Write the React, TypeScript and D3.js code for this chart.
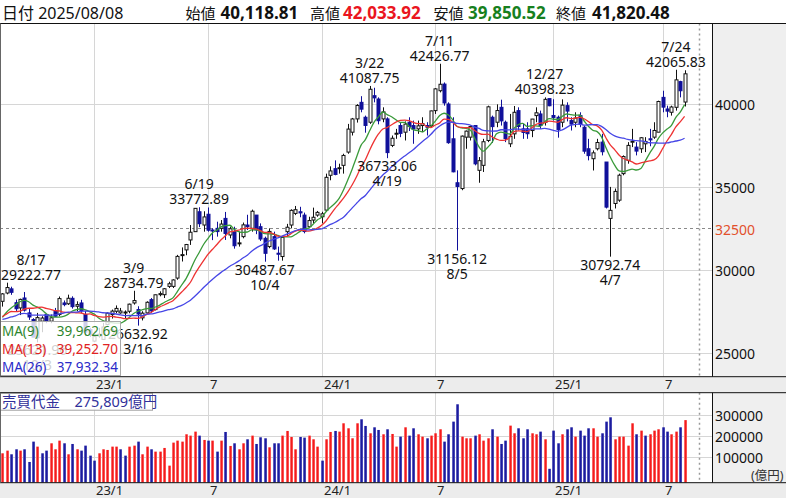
import React from 'react';
import * as d3 from 'd3';

// ---- data (weekly, 2022-08-12 .. 2025-08-08) ----
const priorCloses = [27122.07, 26476.5, 25985.47, 25162.78, 26827.43, 28149.84, 27665.98, 26985.8, 27093.19, 27105.26, 26847.9, 27003.56, 26427.65, 26739.03, 26781.68, 27761.57, 27824.29, 25963.0, 26491.97, 25935.62, 26517.19, 26788.47, 27914.66, 27801.64, 28175.87];

const opens = [28100, 28600, 28850, 28015, 27700, 28300, 27400, 27000, 25900, 26900, 27300, 26900, 27500, 27300, 28000, 27950, 28280, 27800, 28000, 27300, 26400, 25700, 26000, 25800, 26700, 27300, 27500, 27400, 27400, 27500, 28000, 27600, 27100, 27400, 28200, 27600, 28500, 28500, 29000, 29000, 29500, 30900, 31200, 31800, 32300, 33500, 32700, 33350, 32400, 32500, 32500, 33100, 32100, 32300, 31600, 32000, 32700, 32500, 33300, 32600, 31900, 31400, 32000, 31000, 30800, 32300, 32700, 33400, 33500, 33300, 32600, 33000, 33300, 33200, 33600, 35700, 36100, 36100, 36300, 37100, 38300, 39100, 40100, 39200, 38900, 40500, 40300, 39100, 39100, 37500, 38200, 38700, 38300, 38900, 38700, 38500, 38700, 38700, 38700, 39600, 40800, 41200, 40000, 37900, 35250, 34900, 38000, 38000, 38700, 36000, 36300, 37800, 39200, 38900, 39800, 38900, 37600, 38200, 39600, 38500, 38500, 38400, 39300, 39400, 38900, 40325.77, 39307, 39200, 38900, 39900, 39000, 38900, 39300, 38600, 37300, 36700, 37300, 37700, 36500, 33100, 34000, 34200, 35800, 36600, 37700, 37400, 37300, 37600, 37900, 38000, 38300, 40400, 39700, 39500, 39800, 41350, 40118.81];

const highs = [28600, 29222.77, 28980, 28200, 28260, 28660, 27690, 27080, 27400, 27200, 27300, 27300, 27700, 28390, 28150, 28500, 28400, 28100, 28190, 27520, 26500, 26000, 26500, 26800, 27430, 27600, 27850, 27700, 27550, 27960, 28734.79, 27800, 27500, 28100, 28300, 28500, 28700, 28900, 29280, 29430, 30900, 31350, 31560, 32700, 33720, 33772.89, 33530, 33760, 32500, 32900, 33000, 33490, 32600, 32600, 32300, 32850, 33320, 33630, 33300, 32800, 32000, 32500, 32300, 31400, 32000, 32770, 33650, 33850, 33800, 33450, 33200, 33750, 33550, 33500, 35800, 36240, 36600, 36400, 37000, 38800, 39160, 39990, 40472, 39300, 41087.75, 40980, 40400, 39800, 39200, 38100, 38500, 38900, 38950, 39200, 39000, 39000, 39200, 38900, 39600, 40960, 42426.77, 41300, 40100, 39200, 36000, 38100, 38400, 38700, 38700, 36800, 37900, 39900, 39300, 39980, 40260, 39000, 39400, 39880, 39800, 38800, 38900, 39100, 39800, 39600, 40398.23, 40325.77, 40288, 39300, 40280, 40100, 39200, 39500, 39500, 38700, 37900, 37200, 37900, 38200, 36500, 35000, 34900, 35800, 36900, 37700, 38500, 37700, 38000, 38000, 38500, 38900, 40200, 40800, 39900, 39900, 42065.83, 41400, 42033.92];

const lows = [27780, 28520, 28490, 27510, 27270, 27480, 26980, 25935, 25621.96, 26237, 26780, 26780, 27160, 27200, 27800, 27880, 27660, 27500, 27400, 26000, 25950, 25661, 25900, 25800, 26650, 27060, 27380, 27350, 27050, 27380, 27900, 26632.92, 26945, 27350, 27400, 27550, 28400, 28300, 28900, 28900, 29400, 30500, 30880, 31500, 32300, 32575, 32300, 32300, 31790, 32000, 32300, 31800, 31900, 31275, 31400, 31900, 32400, 32300, 32150, 31740, 30487.67, 31300, 31200, 30550, 30550, 32000, 32500, 33300, 33170, 32200, 32500, 32800, 33200, 32800, 33500, 35400, 35700, 35800, 35800, 37000, 38100, 38880, 39500, 38270, 38800, 40100, 38774, 38900, 36733.06, 37400, 37900, 38000, 37800, 38370, 37600, 38200, 38300, 38100, 38600, 39400, 40700, 39900, 37600, 35880, 31156.12, 34800, 37300, 37800, 36300, 35250, 35900, 37700, 37650, 38600, 38700, 37700, 37400, 37900, 38400, 37900, 37900, 38000, 38900, 38500, 38700, 39864.36, 39000, 37970, 38600, 38950, 38400, 38600, 38600, 37000, 36600, 35990, 37200, 36900, 33700, 30792.74, 33700, 34100, 35700, 36400, 37400, 36900, 37050, 37100, 37450, 37900, 38300, 39500, 39200, 39300, 39600, 40400, 39850.52];

const closes = [28546.98, 28930.33, 28641.38, 27650.84, 28214.75, 27567.65, 27153.83, 25937.21, 27116.11, 27090.76, 26890.58, 27105.2, 27199.74, 28263.57, 27899.77, 28283.03, 27777.9, 27901.01, 27527.12, 26235.25, 26094.5, 25973.85, 26119.52, 26553.53, 27382.56, 27509.46, 27670.98, 27513.13, 27453.48, 27927.47, 28143.97, 27333.79, 27385.25, 28041.48, 27518.31, 28493.47, 28564.37, 28856.44, 29157.95, 29388.3, 30808.35, 30916.31, 31524.22, 32265.17, 33706.08, 32781.54, 33189.04, 32388.42, 32391.26, 32304.25, 32759.23, 32192.75, 32473.65, 31450.76, 31624.28, 32710.62, 32606.84, 33533.09, 32402.41, 31857.62, 30994.67, 32315.99, 31259.36, 30991.69, 31949.89, 32568.11, 33585.2, 33625.53, 33431.51, 32307.86, 32970.55, 33169.05, 33464.17, 33377.42, 35577.11, 35963.27, 35751.07, 36158.02, 36897.42, 38487.24, 39098.68, 39910.82, 39688.94, 38707.64, 40888.43, 40369.44, 38992.08, 39523.55, 37068.35, 37934.76, 38236.07, 38229.11, 38787.38, 38646.11, 38487.9, 38683.93, 38814.56, 38596.47, 39583.08, 40912.37, 41190.68, 40063.79, 37667.41, 35909.7, 35025.0, 38062.67, 38364.27, 38647.75, 36391.47, 36581.76, 37723.91, 39829.56, 38635.62, 39605.8, 38981.75, 37913.92, 38053.67, 39500.37, 38642.91, 38283.85, 38208.03, 39091.17, 39470.44, 38701.9, 40281.16, 39894.54, 39190.4, 38451.46, 39931.98, 39572.49, 38787.02, 39149.43, 38776.94, 37155.5, 36887.17, 37053.1, 37677.06, 37120.33, 33780.58, 33585.58, 34730.28, 35705.74, 36830.69, 37503.33, 37753.72, 37160.47, 37965.1, 37741.61, 37834.25, 38403.23, 40150.79, 39810.88, 39569.68, 39819.11, 41456.23, 40799.6, 41820.48];

// 売買代金 (億円)
const volumes = [118500, 131100, 113800, 137500, 131100, 137500, 77400, 173800, 150100, 118500, 131100, 165900, 137500, 178500, 165900, 113800, 162700, 137500, 131100, 154800, 107400, 83700, 118500, 137500, 134300, 150100, 150100, 137500, 107400, 150100, 154800, 173800, 113800, 150100, 137500, 126400, 126400, 143800, 60000, 169100, 178500, 173800, 208600, 202200, 221200, 202200, 181700, 178500, 178500, 126400, 178500, 219600, 153300, 165900, 137500, 165900, 184900, 202200, 162700, 194300, 189600, 146900, 165900, 165900, 202200, 224400, 195900, 137500, 195900, 192800, 202200, 184900, 150100, 83700, 184900, 219600, 224400, 221200, 260700, 237000, 189600, 260700, 279700, 248100, 213300, 241700, 229100, 208600, 232300, 210100, 150100, 197500, 241700, 202200, 237000, 208600, 197500, 189600, 202200, 213300, 232300, 173800, 208600, 268600, 350800, 197500, 189600, 189600, 202200, 208600, 178500, 189600, 232300, 197500, 162700, 178500, 249600, 213300, 237000, 189600, 232300, 213300, 208600, 221200, 184900, 45000, 225900, 165900, 208600, 232300, 241700, 197500, 225900, 202200, 237000, 237000, 197500, 213300, 268600, 289100, 184900, 197500, 197500, 154800, 260700, 208600, 225900, 202200, 208600, 225900, 232300, 241700, 221200, 208600, 221200, 241700, 275809];

const tickIndex = [21, 47, 73, 99, 126, 151];
const tickLabels = ['23/1', '7', '24/1', '7', '25/1', '7'];
const priceTicks = [25000, 30000, 35000, 40000];
const volTicks = [100000, 200000, 300000];
const refLine = 32500;

const annIdx = [1, 8, 30, 31, 45, 60, 84, 88, 100, 104, 124, 139, 154];
const annDate = ['8/17', '10/3', '3/9', '3/16', '6/19', '10/4', '3/22', '4/19', '7/11', '8/5', '12/27', '4/7', '7/24'];
const annType = ['H', 'L', 'H', 'L', 'H', 'L', 'H', 'L', 'H', 'L', 'H', 'L', 'H'];

const maPeriods = [9, 13, 26];
const maColors = ['#3a9a3a', '#ee3333', '#4646e6'];
const maTextColors = ['#2e862e', '#e02222', '#2a2ac8'];

const FONT = "'Noto Sans', 'Noto Sans CJK JP', sans-serif";
const UP_STROKE = '#111';
const DOWN = '#10109a';

// layout
const PLOT_R = 712;
const MAIN_T = 23.5, MAIN_B = 376.7;
const VOL_T = 392.7, VOL_B = 482.7;

export default function App() {
  const n = closes.length;
  const x = d3.scaleLinear().domain([0, n - 1]).range([2.4, 2.4 + (n - 1) * 4.373]);
  const y = d3.scaleLinear().domain([25000, 40000]).range([352.7, 104]);
  const yv = d3.scaleLinear().domain([0, 300000]).range([478.3, 415]);

  const all = priorCloses.concat(closes);
  const off = priorCloses.length;
  const maSeries = maPeriods.map((p) =>
    closes.map((_, i) => d3.mean(all.slice(i + off - p + 1, i + off + 1)) as number)
  );
  const line = d3.line<number>().x((_, i) => x(i)).y((d) => y(d)).curve(d3.curveMonotoneX);

  const fmt = d3.format(',.2f');
  const bw = 3;

  const prevClose = (i: number) => (i === 0 ? priorCloses[priorCloses.length - 1] : closes[i - 1]);

  return (
    <svg width={786} height={498} style={{ display: 'block', position: 'absolute', left: 0, top: 0 }} fontFamily={FONT}>
      <defs>
        <clipPath id="cpMain"><rect x={0} y={MAIN_T} width={PLOT_R} height={MAIN_B - MAIN_T} /></clipPath>
        <clipPath id="cpVol"><rect x={0} y={VOL_T} width={PLOT_R} height={VOL_B - VOL_T} /></clipPath>
        <linearGradient id="gRed" x1="0" x2="1" y1="0" y2="0">
          <stop offset="0" stopColor="#ff8a8a" />
          <stop offset="0.5" stopColor="#f21c1c" />
          <stop offset="1" stopColor="#ff6a6a" />
        </linearGradient>
        <linearGradient id="gBlue" x1="0" x2="1" y1="0" y2="0">
          <stop offset="0" stopColor="#7a7ad0" />
          <stop offset="0.5" stopColor="#1c1c9c" />
          <stop offset="1" stopColor="#5a5ac0" />
        </linearGradient>
      </defs>
      <rect x={0} y={0} width={786} height={498} fill="#ffffff" />
      {/* right axis panels */}
      <rect x={PLOT_R} y={MAIN_T} width={786 - PLOT_R} height={MAIN_B - MAIN_T} fill="#efefef" />
      <rect x={PLOT_R} y={VOL_T} width={786 - PLOT_R} height={VOL_B - VOL_T} fill="#efefef" />
      {/* x bands */}
      <rect x={0} y={MAIN_B} width={786} height={VOL_T - MAIN_B} fill="#ececec" />
      <rect x={0} y={VOL_B} width={786} height={498 - VOL_B} fill="#ececec" />

      {/* header */}
      <g fontSize={16} fill="#111">
        <text x={2} y={19}>日付 2025/08/08</text>
        <text x={185.5} y={19} fontSize={15}>始値</text>
        <text x={220.5} y={19} fontWeight="bold" fontSize={17}>40,118.81</text>
        <text x={310} y={19} fontSize={15}>高値</text>
        <text x={343} y={19} fontWeight="bold" fontSize={17} fill="#ea1520">42,033.92</text>
        <text x={433.5} y={19} fontSize={15}>安値</text>
        <text x={468} y={19} fontWeight="bold" fontSize={17} fill="#17801e">39,850.52</text>
        <text x={556} y={19} fontSize={15}>終値</text>
        <text x={592} y={19} fontWeight="bold" fontSize={17}>41,820.48</text>
      </g>

      {/* main grid */}
      <g stroke="#d6d6d6" strokeWidth={1}>
        {priceTicks.map((t) => (
          <line key={'h' + t} x1={0} x2={PLOT_R} y1={Math.round(y(t)) + 0.5} y2={Math.round(y(t)) + 0.5} />
        ))}
        {tickIndex.map((t) => (
          <line key={'v' + t} x1={Math.round(x(t)) + 0.5} x2={Math.round(x(t)) + 0.5} y1={MAIN_T} y2={MAIN_B} />
        ))}
        {volTicks.map((t) => (
          <line key={'vh' + t} x1={0} x2={PLOT_R} y1={Math.round(yv(t)) + 0.5} y2={Math.round(yv(t)) + 0.5} />
        ))}
        {tickIndex.map((t) => (
          <line key={'vv' + t} x1={Math.round(x(t)) + 0.5} x2={Math.round(x(t)) + 0.5} y1={VOL_T} y2={VOL_B} />
        ))}
      </g>
      <line x1={0} x2={PLOT_R} y1={Math.round(y(refLine)) + 0.5} y2={Math.round(y(refLine)) + 0.5} stroke="#8a8a8a" strokeDasharray="3,3" />
      <line x1={699.5} x2={699.5} y1={MAIN_T} y2={MAIN_B} stroke="#9a9a9a" strokeDasharray="2,3" strokeWidth={1.5} />
      <line x1={699.5} x2={699.5} y1={VOL_T} y2={VOL_B} stroke="#9a9a9a" strokeDasharray="2,3" strokeWidth={1.5} />

      {/* candles */}
      <g clipPath="url(#cpMain)">
        {closes.map((c, i) => {
          const o = opens[i];
          const up = c >= o;
          const cx = Math.round(x(i)) + 0.5;
          const top = y(Math.max(o, c));
          const bot = y(Math.min(o, c));
          const col = up ? UP_STROKE : DOWN;
          return (
            <g key={i}>
              <line x1={cx} x2={cx} y1={y(highs[i])} y2={y(lows[i])} stroke={col} strokeWidth={1} />
              <rect x={cx - bw / 2} y={top} width={bw} height={Math.max(1, bot - top)}
                fill={up ? '#ffffff' : DOWN} stroke={col} strokeWidth={1} />
            </g>
          );
        })}
        {maSeries.map((s, k) => (
          <path key={k} d={line(s) || ''} fill="none" stroke={maColors[k]} strokeWidth={1.3} />
        ))}
      </g>

      {/* annotations */}
      <g fontSize={14} fill="#111" textAnchor="middle">
        {annIdx.map((idx, k) => {
          const isH = annType[k] === 'H';
          const v = isH ? highs[idx] : lows[idx];
          const vs = v.toFixed(2);
          const w = Math.max(vs.length, annDate[k].length) * 7.75;
          const cx = Math.max(w / 2, Math.min(PLOT_R - w / 2, x(idx)));
          const py = y(v);
          const b1 = isH ? py - 3 : py + 13;
          const dateY = isH ? b1 - 15 : b1 + 15;
          return (
            <g key={k}>
              <text x={cx} y={dateY}>{annDate[k]}</text>
              <text x={cx} y={b1}>{vs}</text>
            </g>
          );
        })}
      </g>

      {/* MA legend */}
      <rect x={0.5} y={321.5} width={120} height={54} fill="#ffffff" fillOpacity={0.8} stroke="#a8a8a8" />
      <g fontSize={13.5}>
        {maPeriods.map((p, k) => (
          <g key={p} fill={maTextColors[k]}>
            <text x={2} y={335.5 + k * 18}>{`MA(${p})`}</text>
            <text x={118} y={335.5 + k * 18} textAnchor="end">{fmt(maSeries[k][n - 1])}</text>
          </g>
        ))}
      </g>

      {/* volume bars */}
      <g clipPath="url(#cpVol)">
        {volumes.map((v, i) => {
          const upv = closes[i] >= prevClose(i);
          const cx = Math.round(x(i)) + 0.5;
          return (
            <rect key={i} x={cx - 1.5} y={yv(v)} width={3} height={VOL_B - yv(v)}
              fill={upv ? 'url(#gRed)' : 'url(#gBlue)'} />
          );
        })}
      </g>
      <rect x={0.5} y={VOL_T + 0.5} width={152} height={17} fill="#ffffff" fillOpacity={0.85} stroke="#a0a0a0" />
      <text x={2} y={VOL_T + 14} fontSize={14.5} fill="#30309a">売買代金　<tspan>{d3.format(',')(volumes[n - 1])}億円</tspan></text>

      {/* right axis labels */}
      <g fontSize={14} fill="#111" dominantBaseline="central">
        {priceTicks.map((t) => (
          <text key={t} x={715} y={y(t) + 0.5}>{t}</text>
        ))}
        <text x={715} y={y(refLine) + 1} fill="#e2502c">{refLine}</text>
        {volTicks.map((t) => (
          <text key={t} x={715} y={yv(t)}>{t}</text>
        ))}
      </g>
      <text x={751} y={480} fontSize={12.5} fill="#333">(億円)</text>

      {/* x labels */}
      <g fontSize={13} fill="#222">
        {tickIndex.map((t, k) => (
          <text key={'a' + t} x={Math.round(x(t)) + 2} y={389}>{tickLabels[k]}</text>
        ))}
        {tickIndex.map((t, k) => (
          <text key={'b' + t} x={Math.round(x(t)) + 2} y={495}>{tickLabels[k]}</text>
        ))}
      </g>

      {/* frame lines */}
      <g stroke="#111" strokeWidth={1}>
        <line x1={0} x2={786} y1={MAIN_T} y2={MAIN_T} />
        <line x1={0} x2={786} y1={MAIN_B} y2={MAIN_B} />
        <line x1={0} x2={786} y1={VOL_T} y2={VOL_T} />
        <line x1={0} x2={786} y1={VOL_B} y2={VOL_B} />
        <line x1={PLOT_R + 0.5} x2={PLOT_R + 0.5} y1={MAIN_T} y2={MAIN_B} />
        <line x1={PLOT_R + 0.5} x2={PLOT_R + 0.5} y1={VOL_T} y2={VOL_B} />
        <line x1={0.5} x2={0.5} y1={MAIN_T} y2={MAIN_B} stroke="#666" />
        <line x1={0.5} x2={0.5} y1={VOL_T} y2={VOL_B} stroke="#666" />
      </g>
    </svg>
  );
}
